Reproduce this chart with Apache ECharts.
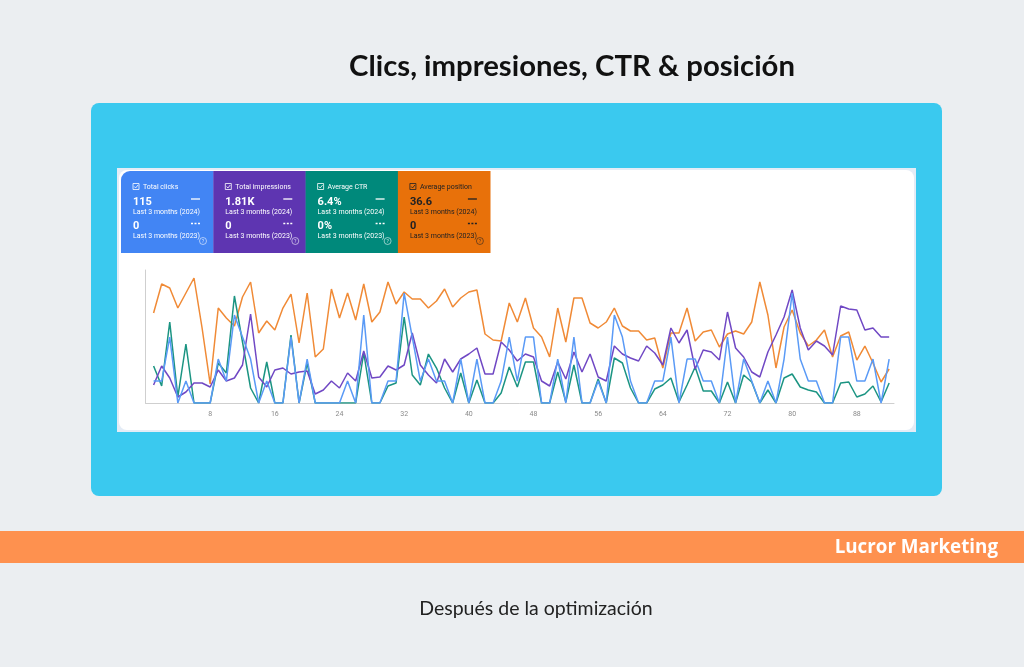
<!DOCTYPE html>
<html>
<head>
<meta charset="utf-8">
<script src="https://cdn.jsdelivr.net/npm/echarts@6/dist/echarts.min.js"></script>
<style>
html,body{margin:0;padding:0;background:#ebeef1;}
#c{width:1024px;height:667px;}
</style>
</head>
<body>
<div id="c"></div>
<script>
// ---- data ----
var days = [];
for (var d = 1; d <= 92; d++) days.push(d);
var xTicks = [8, 16, 24, 32, 40, 48, 56, 64, 72, 80, 88];

var clicks = [1,1,3,0,1,0,0,0,2,1,4,3,2,0,1,0,0,3,0,2,0,0,0,0,1,0,4,0,0,1,1,5,3,1,2,1,1,0,2,0,2,0,0,1,3,1,3,3,0,0,2,0,3,0,0,1,0,4,3,1,0,0,1,1,3,0,2,2,1,1,0,3,0,2,1,0,1,0,2,5,2,1,1,0,0,3,3,1,1,2,0,2];
var impressions = [18,37,25,6,11,20,20,16,33,22,25,38,89,26,16,33,35,29,31,32,9,13,22,15,30,22,52,25,26,37,33,38,70,38,28,20,44,31,44,49,55,29,29,61,53,42,49,46,22,17,41,24,51,31,49,26,22,57,49,45,42,57,50,38,75,60,73,34,53,51,43,91,55,46,31,26,51,68,86,113,75,53,62,57,48,97,94,93,73,75,66,66];
var ctr = [37,17,81,6,59,0,0,0,40,30,107,61,15,0,41,0,0,68,0,40,0,0,0,0,0,0,50,0,0,17,20,86,28,18,49,35,15,0,30,0,23,0,0,10,36,16,41,41,0,0,31,1,38,0,0,24,0,45,40,15,0,0,14,18,25,1,18,36,12,12,0,21,0,28,21,0,13,0,25,29,16,13,11,0,0,20,21,6,9,17,1,20];
var position = [90,119,115,95,110,125,75,19,95,85,77,106,121,70,82,73,95,109,60,110,46,54,114,85,110,83,119,81,91,121,99,111,104,104,95,102,114,96,105,111,113,69,63,62,100,81,105,75,66,46,95,61,105,105,80,75,81,95,77,72,72,63,65,35,70,70,95,62,71,73,56,69,72,69,81,121,88,35,76,93,70,57,63,73,46,67,71,43,57,40,21,34];

var cards = [
  {label:'Total clicks', value:'115', prev:'0', color:'#4285f4', text:'#ffffff'},
  {label:'Total impressions', value:'1.81K', prev:'0', color:'#5e35b1', text:'#ffffff'},
  {label:'Average CTR', value:'6.4%', prev:'0%', color:'#00897b', text:'#ffffff'},
  {label:'Average position', value:'36.6', prev:'0', color:'#e8710a', text:'#202124'}
];

function pairs(arr){ return arr.map(function(v,i){ return [days[i], v]; }); }

// ---- graphics ----
var g = [];
g.push({type:'rect', shape:{x:91,y:103,width:851,height:393,r:8}, style:{fill:'#3ac9ef'}, z:0});
g.push({type:'rect', shape:{x:117,y:168,width:799,height:264}, style:{fill:'#e4ecf6'}, z:1});
g.push({type:'rect', shape:{x:119,y:170,width:795,height:260,r:8}, style:{fill:'#ffffff'}, z:2});

cards.forEach(function(c, k){
  var x0 = 121 + k*92.3;
  g.push({type:'rect', shape:{x:x0,y:171,width:92.6,height:82,r:(k===0?[9,0,0,0]:0)}, style:{fill:c.color}, z:3});
  g.push({type:'rect', shape:{x:x0+12,y:183.5,width:6,height:6}, style:{fill:'none',stroke:c.text,lineWidth:0.8}, z:4});
  g.push({type:'polyline', shape:{points:[[x0+13.3,186.5],[x0+14.6,188],[x0+17,185]]}, style:{fill:'none',stroke:c.text,lineWidth:0.8}, z:4});
  g.push({type:'text', x:x0+22, y:187, style:{text:c.label, fill:c.text, font:'7px Roboto', verticalAlign:'middle'}, z:4});
  g.push({type:'text', x:x0+12, y:202, style:{text:c.value, fill:c.text, font:'bold 11px Roboto', verticalAlign:'middle'}, z:4});
  g.push({type:'line', shape:{x1:x0+70,y1:199,x2:x0+79,y2:199}, style:{stroke:c.text,lineWidth:1.3}, z:4});
  g.push({type:'text', x:x0+12, y:212, style:{text:'Last 3 months (2024)', fill:c.text, font:'7px Roboto', verticalAlign:'middle'}, z:4});
  g.push({type:'text', x:x0+12, y:226, style:{text:c.prev, fill:c.text, font:'bold 11px Roboto', verticalAlign:'middle'}, z:4});
  g.push({type:'line', shape:{x1:x0+70,y1:223.5,x2:x0+79,y2:223.5}, style:{stroke:c.text,lineWidth:1.3,lineDash:[2,1.5]}, z:4});
  g.push({type:'text', x:x0+12, y:236, style:{text:'Last 3 months (2023)', fill:c.text, font:'7px Roboto', verticalAlign:'middle'}, z:4});
  g.push({type:'circle', shape:{cx:x0+82,cy:241,r:3.5}, style:{fill:'none',stroke:c.text,lineWidth:0.7,opacity:0.8}, z:4});
  g.push({type:'text', x:x0+82, y:241.3, style:{text:'?', fill:c.text, font:'5px Roboto', align:'center', verticalAlign:'middle',opacity:0.8}, z:4});
});

g.push({type:'text', x:572, y:67, style:{text:'Clics, impresiones, CTR & posición', fill:'#111111', font:'bold 29.3px Lato', align:'center', verticalAlign:'middle'}, z:5});
g.push({type:'rect', shape:{x:0,y:531,width:1024,height:32}, style:{fill:'#fe914f'}, z:1});
g.push({type:'text', x:998, y:547.5, style:{text:'Lucror Marketing', fill:'#ffffff', font:'bold 18.8px "Open Sans"', align:'right', verticalAlign:'middle'}, z:5});
g.push({type:'text', x:536, y:609, style:{text:'Después de la optimización', fill:'#222222', font:'19.5px Lato', align:'center', verticalAlign:'middle'}, z:5});

var chart = echarts.init(document.getElementById('c'), null, {renderer:'canvas', width:1024, height:667});

function yAx(max){ return {type:'value', min:0, max:max, show:false, splitLine:{show:false}}; }

chart.setOption({
  animation:false,
  backgroundColor:'#ebeef1',
  graphic:g,
  grid:{left:145.5, top:270, width:748.5, height:133, containLabel:false},
  xAxis:{
    type:'value', min:0, max:92.6, interval:8, z:10,
    axisLine:{show:true, lineStyle:{color:'#cfcfcf', width:1}},
    axisTick:{show:false},
    splitLine:{show:false},
    axisLabel:{color:'#8a8a8a', fontSize:7, fontFamily:'Roboto', margin:8,
      formatter:function(v){ return xTicks.indexOf(v) >= 0 ? String(v) : ''; }}
  },
  yAxis:[
    {type:'value', min:0, max:133, z:10, axisLine:{show:true, lineStyle:{color:'#cfcfcf'}}, axisLabel:{show:false}, axisTick:{show:false}, splitLine:{show:false}},
    yAx(6.05), yAx(133), yAx(133)
  ],
  series:[
    {type:'line', name:'Average position', yAxisIndex:3, data:pairs(position), symbol:'none', lineStyle:{color:'#f08a36', width:1.5}, z:11},
    {type:'line', name:'Average CTR', yAxisIndex:2, data:pairs(ctr), symbol:'none', lineStyle:{color:'#1b9482', width:1.5}, z:12},
    {type:'line', name:'Total impressions', yAxisIndex:0, data:pairs(impressions), symbol:'none', lineStyle:{color:'#7048c4', width:1.5}, z:13},
    {type:'line', name:'Total clicks', yAxisIndex:1, data:pairs(clicks), symbol:'none', lineStyle:{color:'#5a9af6', width:1.5}, z:14}
  ]
});
</script>
</body>
</html>
